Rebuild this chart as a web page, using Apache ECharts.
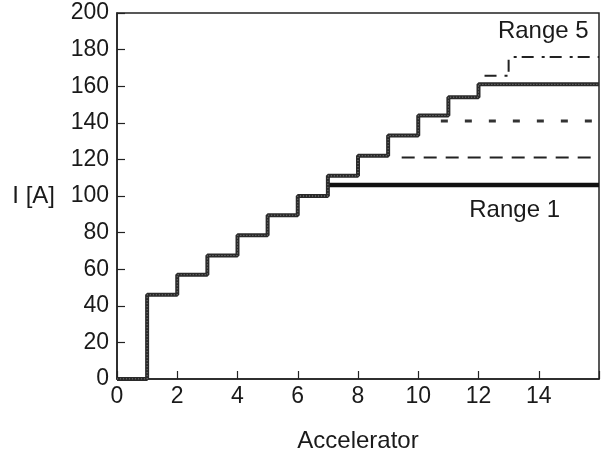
<!DOCTYPE html>
<html>
<head>
<meta charset="utf-8">
<script src="https://cdn.jsdelivr.net/npm/echarts@6/dist/echarts.min.js"></script>
<style>html,body{margin:0;padding:0;background:#fff}#c{width:602px;height:458px}</style>
</head>
<body>
<div id="c"></div>
<script>
// Common staircase: [accelerator start, current level]
var stairX = [0, 1, 2, 3, 4, 5, 6, 7, 8, 9, 10, 11, 12, 16];
var stairY = [0, 46, 57, 67.5, 78.5, 89.5, 100, 111, 122, 133, 144, 154, 161, 161];
// Range branches
var range1X = [7, 16];      var range1Y = [106, 106];
var range2X = [9.45, 16];   var range2Y = [121, 121];
var range3X = [10.75, 16];  var range3Y = [141, 141];
var range5X = [12.2, 13, 16]; var range5Y = [165.7, 176, 176];
var xTicks = [0, 2, 4, 6, 8, 10, 12, 14];
var yTicks = [0, 20, 40, 60, 80, 100, 120, 140, 160, 180, 200];
var labels = [
  {text: 'Range 5', x: 14.15, y: 190},
  {text: 'Range 1', x: 13.2, y: 92}
];

function pairs(xs, ys) { return xs.map(function (x, i) { return [x, ys[i]]; }); }

var font = 'Liberation Sans, Arial, Helvetica, sans-serif';
var txt = '#1a1a1a';

var chart = echarts.init(document.getElementById('c'), null, {renderer: 'canvas'});
chart.setOption({
  animation: false,
  backgroundColor: '#fff',
  grid: {left: 117, right: -5, top: 13, bottom: 78, show: true, borderColor: '#222', borderWidth: 1.5, backgroundColor: 'transparent'},
  xAxis: {
    type: 'value', min: 0, max: 16, interval: 2,
    name: 'Accelerator', nameLocation: 'middle', nameGap: 50,
    nameTextStyle: {fontFamily: font, fontSize: 24, color: txt},
    axisLine: {show: true, lineStyle: {color: '#222', width: 1.5}},
    axisTick: {show: true, inside: true, length: 8, lineStyle: {color: '#222', width: 1.2}},
    axisLabel: {fontFamily: font, fontSize: 23, color: txt, margin: 6,
      formatter: function (v) { return xTicks.indexOf(v) >= 0 ? String(v) : ''; }},
    splitLine: {show: false}
  },
  yAxis: {
    type: 'value', min: 0, max: 200, interval: 20,
    name: 'I [A]', nameLocation: 'middle', nameGap: 62, nameRotate: 0,
    nameTextStyle: {fontFamily: font, fontSize: 24, color: txt, align: 'right'},
    axisLine: {show: true, lineStyle: {color: '#222', width: 1.5}},
    axisTick: {show: true, inside: true, length: 8, lineStyle: {color: '#222', width: 1.2}},
    axisLabel: {fontFamily: font, fontSize: 23, color: txt, margin: 8,
      formatter: function (v) { return yTicks.indexOf(v) >= 0 ? String(v) : ''; }},
    splitLine: {show: false}
  },
  series: [
    {type: 'line', name: 'Range 1', data: pairs(range1X, range1Y), showSymbol: false,
      lineStyle: {color: '#111', width: 4.5}, z: 3},
    {type: 'line', name: 'Range 2', data: pairs(range2X, range2Y), showSymbol: false,
      lineStyle: {color: '#222', width: 2, type: [13, 9]}, z: 3},
    {type: 'line', name: 'Range 3', data: pairs(range3X, range3Y), showSymbol: false,
      lineStyle: {color: '#333', width: 3, type: [7, 17]}, z: 3},
    {type: 'line', name: 'Range 5', data: pairs(range5X, range5Y), step: 'end', showSymbol: false,
      lineStyle: {color: '#222', width: 2, type: [12, 8, 3, 5]}, z: 3},
    {type: 'line', name: 'Staircase', data: pairs(stairX, stairY), step: 'end', showSymbol: false,
      lineStyle: {color: '#2a2a2a', width: 4}, z: 4},
    {type: 'line', name: 'StairTexture', data: pairs(stairX, stairY), step: 'end', showSymbol: false,
      lineStyle: {color: 'rgba(255,255,255,0.45)', width: 1, type: [1, 2]}, z: 5, silent: true},
    {type: 'scatter', name: 'labels', symbolSize: 0, silent: true,
      itemStyle: {opacity: 1, color: '#000'},
      data: labels.map(function (l) { return {value: [l.x, l.y], name: l.text}; }),
      label: {show: true, position: 'inside', formatter: '{b}', fontFamily: font, fontSize: 24,
        color: txt, opacity: 1, textBorderWidth: 0}, z: 6}
  ]
});
</script>
</body>
</html>
